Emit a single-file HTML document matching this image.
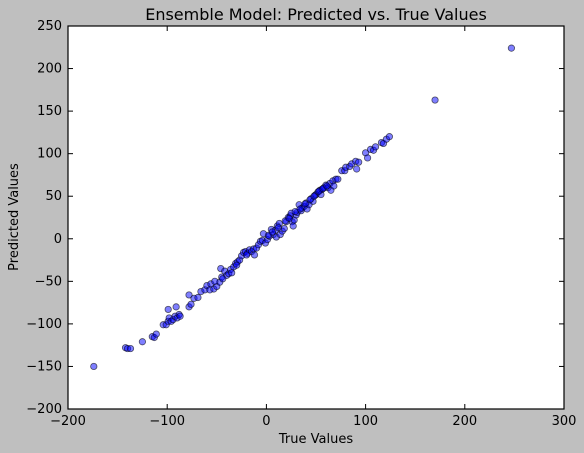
<!DOCTYPE html>
<html><head><meta charset="utf-8"><style>
body{margin:0;background:#bfbfbf;font-family:"DejaVu Sans","Liberation Sans",sans-serif;}
svg{display:block}
</style></head><body>
<svg id="chart" width="584" height="453" xmlns="http://www.w3.org/2000/svg">
<rect x="0" y="0" width="584" height="453" fill="#bfbfbf"/>
<rect x="68" y="26" width="496" height="383" fill="#fff"/>
<g id="ticks"></g>
<g id="points"></g>
<rect x="68" y="26" width="496" height="383" fill="none" stroke="#000" stroke-width="1.2"/>
<text x="316" y="20" font-size="16" text-anchor="middle">Ensemble Model: Predicted vs. True Values</text>
<text x="316" y="443" font-size="13" text-anchor="middle">True Values</text>
<text x="18" y="217" font-size="13" text-anchor="middle" transform="rotate(-90 18 217)">Predicted Values</text>
</svg>
<script>
const xTicks=[-200,-100,0,100,200,300];
const yTicks=[-200,-150,-100,-50,0,50,100,150,200,250];
const trueVals=[-174,-142,-140,-137,-125,-115,-113,-111,-104,-101,-99,-98,-96,-94,-92,-90,-88,-87,-99,-91,-78,-76,-78,-73,-69,-66,-62,-60,-57,-56,-53,-50,-47,-45,-46,-42,-40,-38,-36,-35,-33,-31,-29,-27,-25,-23,-21,-19,-17,-15,-13,-12,-10,-8,-6,-4,-3,-1,1,3,5,7,9,10,11,13,14,16,18,20,22,24,25,26,27,28,30,31,33,35,36,38,40,41,43,45,47,49,50,52,54,55,56,58,60,62,64,65,67,68,70,72,76,79,80,84,86,90,91,93,100,102,105,108,110,116,118,121,124,170,247,2,6,12,19,23,29,34,39,44,48,53,57,61,-20,-30,-44,-52];
const predVals=[-150,-128,-129,-129,-121,-115,-116,-112,-101,-101,-97,-93,-97,-95,-91,-93,-89,-91,-83,-80,-80,-77,-66,-70,-69,-62,-60,-55,-60,-53,-59,-56,-51,-45,-35,-38,-43,-41,-36,-40,-33,-29,-27,-25,-20,-16,-15,-17,-13,-15,-12,-19,-11,-7,-3,-2,6,-5,-1,3,11,5,10,2,15,18,5,9,12,20,25,27,30,20,15,22,28,31,40,33,36,38,42,35,40,47,44,51,52,55,57,52,58,60,63,60,65,57,68,62,70,70,80,80,84,85,88,91,82,90,101,95,105,104,108,113,112,117,120,163,224,4,8,13,21,24,32,35,41,46,50,56,59,62,-19,-31,-47,-50];
const x=v=>68+(v+200)*496/500;
const y=v=>409-(v+200)*383/450;
const NS="http://www.w3.org/2000/svg";
const tg=document.getElementById('ticks');
xTicks.forEach(t=>{
 const l=document.createElementNS(NS,'line');
 l.setAttribute('x1',x(t));l.setAttribute('x2',x(t));l.setAttribute('y1',409);l.setAttribute('y2',404);l.setAttribute('stroke','#000');
 
 
 tg.appendChild(l);
 const l2=document.createElementNS(NS,'line');
 l2.setAttribute('x1',x(t));l2.setAttribute('x2',x(t));l2.setAttribute('y1',26);l2.setAttribute('y2',31);l2.setAttribute('stroke','#000');
 
 
 tg.appendChild(l2);
 const tx=document.createElementNS(NS,'text');
 tx.setAttribute('x',x(t));tx.setAttribute('y',425);tx.setAttribute('font-size','13');tx.setAttribute('text-anchor','middle');
 tx.textContent=t<0?'\u2212'+(-t):t;
 
 
 tg.appendChild(tx);
});
yTicks.forEach(t=>{
 const l=document.createElementNS(NS,'line');
 l.setAttribute('x1',68);l.setAttribute('x2',73);l.setAttribute('y1',y(t));l.setAttribute('y2',y(t));l.setAttribute('stroke','#000');
 
 
 tg.appendChild(l);
 const l2=document.createElementNS(NS,'line');
 l2.setAttribute('x1',559);l2.setAttribute('x2',564);l2.setAttribute('y1',y(t));l2.setAttribute('y2',y(t));l2.setAttribute('stroke','#000');
 
 
 tg.appendChild(l2);
 const tx=document.createElementNS(NS,'text');
 tx.setAttribute('x',62);tx.setAttribute('y',y(t)+4);tx.setAttribute('font-size','13');tx.setAttribute('text-anchor','end');
 tx.textContent=t<0?'\u2212'+(-t):t;
 
 
 tg.appendChild(tx);
});
const pg=document.getElementById('points');
trueVals.forEach((v,i)=>{
 const c=document.createElementNS(NS,'circle');
 c.setAttribute('cx',x(v));c.setAttribute('cy',y(predVals[i]));c.setAttribute('r',3.2);
 c.setAttribute('fill','rgba(0,0,255,0.5)');c.setAttribute('stroke','rgba(0,0,0,0.6)');c.setAttribute('stroke-width','0.8');
 
 
 pg.appendChild(c);
});
</script>
</body></html>
